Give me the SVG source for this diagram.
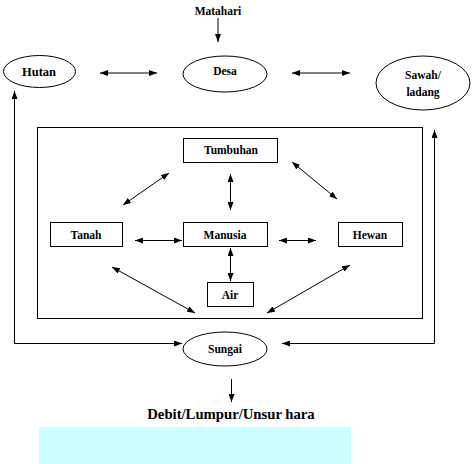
<svg xmlns="http://www.w3.org/2000/svg" width="474" height="464" viewBox="0 0 474 464">
<style>
text{font-family:'Liberation Serif','Times New Roman',Times,serif;font-weight:bold;font-size:11.5px;text-anchor:middle;fill:#000}
.big{font-size:14.7px}
.n{fill:#fff;stroke:#000;stroke-width:1}
.c{fill:none;stroke:#000;stroke-width:1}
</style>
<defs>
<marker id="ah" viewBox="0 0 8 6" refX="8" refY="3" markerWidth="8" markerHeight="6" markerUnits="userSpaceOnUse" orient="auto-start-reverse"><path d="M0,0L8,3L0,6z" fill="#000"/></marker>
</defs>
<rect x="39" y="427" width="312" height="37" fill="#CCFFFF"/>
<rect x="37.5" y="127.5" width="385" height="191" class="c"/>
<g id="connectors">
<path class="c" d="M218,18V42" marker-end="url(#ah)"/>
<path class="c" d="M100,73H157" marker-start="url(#ah)" marker-end="url(#ah)"/>
<path class="c" d="M292,73H350" marker-start="url(#ah)" marker-end="url(#ah)"/>
<path class="c" d="M182,343.5H14.5V91" marker-start="url(#ah)" marker-end="url(#ah)"/>
<path class="c" d="M282,343.5H434.5V130" marker-start="url(#ah)" marker-end="url(#ah)"/>
<path class="c" d="M231.5,379V402" marker-end="url(#ah)"/>
<path class="c" d="M169,173L123,205" marker-start="url(#ah)" marker-end="url(#ah)"/>
<path class="c" d="M292,162L337,199" marker-start="url(#ah)" marker-end="url(#ah)"/>
<path class="c" d="M112,267L195,313" marker-start="url(#ah)" marker-end="url(#ah)"/>
<path class="c" d="M350,265L267,313" marker-start="url(#ah)" marker-end="url(#ah)"/>
<path class="c" d="M135,240.5H182" marker-start="url(#ah)" marker-end="url(#ah)"/>
<path class="c" d="M279,240.5H316" marker-start="url(#ah)" marker-end="url(#ah)"/>
<path class="c" d="M230.5,174V210" marker-start="url(#ah)" marker-end="url(#ah)"/>
<path class="c" d="M230.5,248V281" marker-start="url(#ah)" marker-end="url(#ah)"/>
</g>
<g id="matahari"><text x="218" y="15">Matahari</text></g>
<g id="hutan"><ellipse class="n" cx="39.5" cy="71.5" rx="36" ry="16"/><text x="39" y="76" style="font-size:12.5px">Hutan</text></g>
<g id="desa"><ellipse class="n" cx="225" cy="74" rx="42" ry="18"/><text x="225" y="75">Desa</text></g>
<g id="sawah"><ellipse class="n" cx="423" cy="83" rx="47" ry="27"/><text x="423" y="79">Sawah/</text><text x="423" y="96">ladang</text></g>
<g id="tumbuhan"><rect class="n" x="183.5" y="138.5" width="94" height="24"/><text x="231" y="154">Tumbuhan</text></g>
<g id="tanah"><rect class="n" x="50.5" y="222.5" width="72" height="24"/><text x="86" y="239">Tanah</text></g>
<g id="manusia"><rect class="n" x="183.5" y="222.5" width="84" height="24"/><text x="225" y="239">Manusia</text></g>
<g id="hewan"><rect class="n" x="338.5" y="222.5" width="64" height="24"/><text x="370" y="239">Hewan</text></g>
<g id="air"><rect class="n" x="207.5" y="282.5" width="46" height="24"/><text x="230" y="299">Air</text></g>
<g id="sungai"><ellipse class="n" cx="225" cy="349" rx="42" ry="17"/><text x="225" y="353">Sungai</text></g>
<g id="debit"><text class="big" x="231" y="419">Debit/Lumpur/Unsur hara</text></g>
</svg>
